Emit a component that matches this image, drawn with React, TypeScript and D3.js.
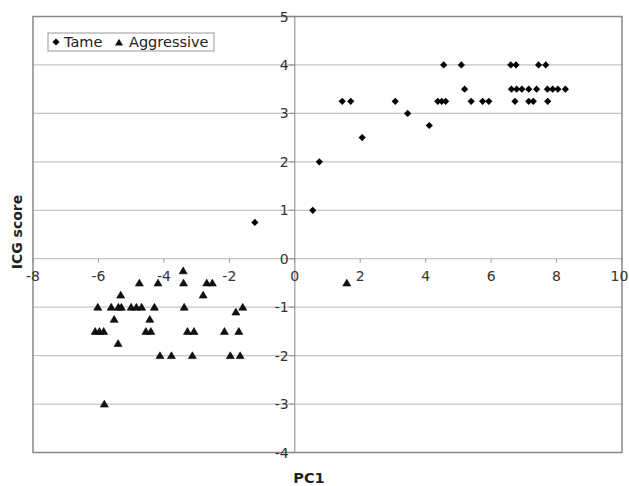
import React from "react";
import * as d3 from "d3";

const tameX = [0.55, 0.75, -1.22, 2.06, 1.45, 1.71, 3.07, 3.45, 4.11, 4.37, 4.49, 4.61, 4.55, 5.09, 5.19, 5.39, 5.74, 5.93, 6.6, 6.76, 7.45, 7.67, 6.62, 6.78, 6.94, 7.15, 7.39, 7.72, 7.88, 8.04, 8.27, 6.73, 7.15, 7.29, 7.73];
const tameY = [1, 2, 0.75, 2.5, 3.25, 3.25, 3.25, 3.0, 2.75, 3.25, 3.25, 3.25, 4, 4, 3.5, 3.25, 3.25, 3.25, 4, 4, 4, 4, 3.5, 3.5, 3.5, 3.5, 3.5, 3.5, 3.5, 3.5, 3.5, 3.25, 3.25, 3.25, 3.25];

const aggX = [-3.41, -4.75, -4.18, -3.4, -2.69, -2.52, 1.59, -5.32, -2.8, -6.02, -5.61, -5.39, -5.3, -5.0, -4.84, -4.68, -4.29, -3.38, -1.59, -1.8, -5.52, -4.43, -6.1, -5.97, -5.84, -4.55, -4.4, -3.28, -3.08, -2.15, -1.71, -5.4, -4.12, -3.77, -3.13, -1.97, -1.67, -5.82];
const aggY = [-0.25, -0.5, -0.5, -0.5, -0.5, -0.5, -0.5, -0.75, -0.75, -1, -1, -1, -1, -1, -1, -1, -1, -1, -1, -1.1, -1.25, -1.25, -1.5, -1.5, -1.5, -1.5, -1.5, -1.5, -1.5, -1.5, -1.5, -1.75, -2, -2, -2, -2, -2, -3];

const xTicks = [-8, -6, -4, -2, 0, 2, 4, 6, 8, 10];
const yTicks = [-4, -3, -2, -1, 0, 1, 2, 3, 4, 5];
const seriesNames = ["Tame", "Aggressive"];
const xTitle = "PC1";
const yTitle = "ICG score";

const W = 629, H = 486;
const L = 33, R = 622, T = 16.5, B = 452.5;
const font = "'DejaVu Sans', Verdana, sans-serif";

const diamond = "M0,-3.6L3.6,0L0,3.6L-3.6,0Z";
const triangle = "M0,-3.8L4,3L-4,3Z";

export default function App() {
  const x = d3.scaleLinear().domain([-8, 10]).range([L, R]);
  const y = d3.scaleLinear().domain([-4, 5]).range([B, T]);
  const x0 = x(0), y0 = y(0);
  const tame = tameX.map((v, i) => [v, tameY[i]]);
  const agg = aggX.map((v, i) => [v, aggY[i]]);
  return (
    <svg width={W} height={H} style={{ position: "absolute", left: 0, top: 0, background: "#fff" }} fontFamily={font}>
      <rect x={0} y={0} width={W} height={H} fill="#fff" />
      {yTicks.filter((t) => t > -4 && t < 5).map((t) => (
        <line key={"g" + t} x1={L} x2={R} y1={y(t)} y2={y(t)} stroke="#c4c4c4" strokeWidth={1.2} />
      ))}
      <line x1={x0} x2={x0} y1={T} y2={B} stroke="#999" strokeWidth={1.2} />
      {yTicks.map((t) => (
        <line key={"yt" + t} x1={x0 - 6} x2={x0} y1={y(t)} y2={y(t)} stroke="#999" strokeWidth={1.2} />
      ))}
      {xTicks.map((t) => (
        <line key={"xt" + t} x1={x(t)} x2={x(t)} y1={y0} y2={y0 + 4} stroke="#999" strokeWidth={1} />
      ))}
      <rect x={L} y={T} width={R - L} height={B - T} fill="none" stroke="#888" strokeWidth={1.5} />
      {yTicks.map((t) => (
        <text key={"yl" + t} x={x0 - 6} y={y(t)} dy="0.36em" textAnchor="end" fontSize={14} fill="#333">
          {t}
        </text>
      ))}
      {xTicks.map((t, i) => (
        <text key={"xl" + t} x={x(t) - (i === xTicks.length - 1 ? 2.5 : 0)} y={y0 + 17.5} dy="0.36em" textAnchor="middle" fontSize={14} fill="#333">
          {t}
        </text>
      ))}
      {tame.map((d, i) => (
        <path key={"t" + i} d={diamond} transform={`translate(${x(d[0])},${y(d[1])})`} fill="#000" />
      ))}
      {agg.map((d, i) => (
        <path key={"a" + i} d={triangle} transform={`translate(${x(d[0])},${y(d[1])})`} fill="#111" stroke="#000" strokeWidth={0.6} />
      ))}
      <rect x={48} y={33} width={166} height={18} fill="#fff" stroke="#999" strokeWidth={1} />
      <path d={diamond} transform="translate(56,42)" fill="#000" />
      <text x={64} y={47} fontSize={14.5} fill="#222">{seriesNames[0]}</text>
      <path d={triangle} transform="translate(119,42.5)" fill="#111" />
      <text x={129} y={47} fontSize={14.5} fill="#222">{seriesNames[1]}</text>
      <text x={309} y={483} textAnchor="middle" fontSize={14.5} fontWeight="bold" fill="#222">{xTitle}</text>
      <text transform="translate(22,232) rotate(-90)" textAnchor="middle" fontSize={14} fontWeight="bold" fill="#222">{yTitle}</text>
    </svg>
  );
}
